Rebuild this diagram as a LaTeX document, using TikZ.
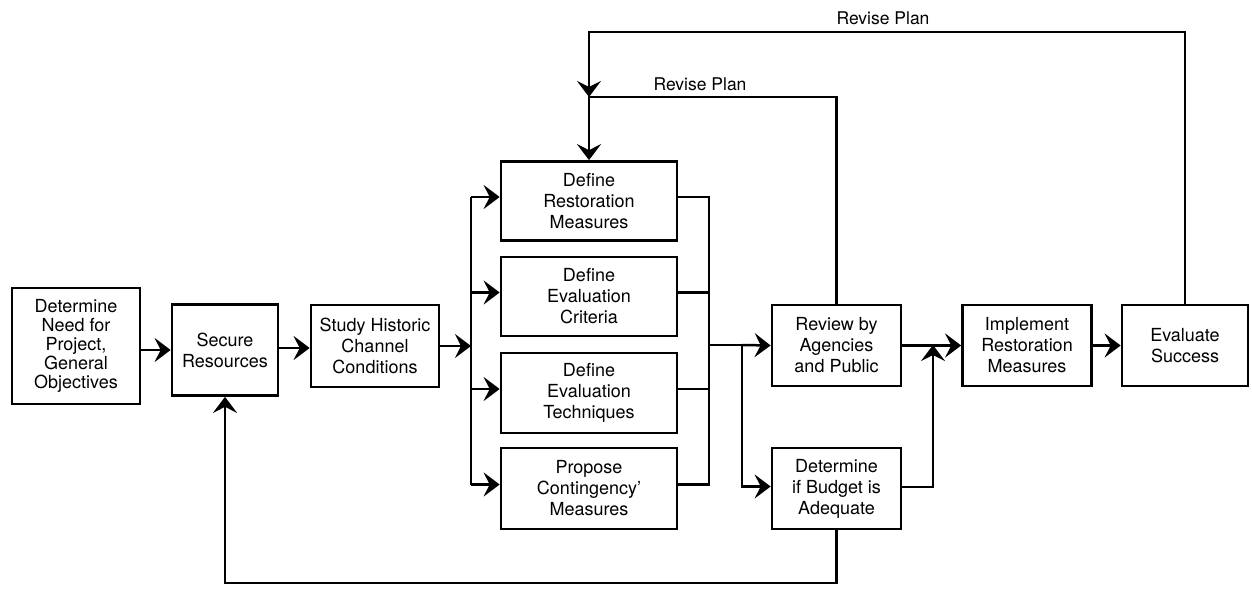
\documentclass[tikz,border=0pt]{standalone}
\usepackage{fontspec}
\setmainfont{TeX Gyre Heros}
\usetikzlibrary{arrows.meta}
\tikzset{
  box/.style={draw, line width=2.7pt, align=center, inner sep=2pt,
    font=\fontsize{18}{21}\selectfont},
  conn/.style={line width=2.5pt},
  arr/.style={conn, -{Stealth[length=16pt,width=24pt,inset=6pt]}},
  lbl/.style={font=\fontsize{17.5}{20}\selectfont, inner sep=0pt}
}
\begin{document}
\begin{tikzpicture}[x=1pt,y=-1pt]
\useasboundingbox (0,0) rectangle (1252,593);
% left chain
\node[box, minimum width=128pt, minimum height=116pt, font=\fontsize{18}{19}\selectfont] (n1) at (76,346) {Determine\\Need for\\Project,\\General\\Objectives};
\node[box, minimum width=106pt, minimum height=91pt] (n2) at (225,350) {Secure\\Resources};
\node[box, minimum width=128pt, minimum height=82pt] (n3) at (375,346) {Study Historic\\Channel\\Conditions};
% middle column
\node[box, minimum width=176pt, minimum height=79pt] (d1) at (589,201) {Define\\Restoration\\Measures};
\node[box, minimum width=176pt, minimum height=79pt] (d2) at (589,296.5) {Define\\Evaluation\\Criteria};
\node[box, minimum width=176pt, minimum height=80pt] (d3) at (589,393) {Define\\Evaluation\\Techniques};
\node[box, minimum width=176pt, minimum height=81pt] (d4) at (589,488.5) {Propose\\Contingency'\\Measures};
% right part
\node[box, minimum width=129pt, minimum height=81pt] (r) at (836.5,345.5) {Review by\\Agencies\\and Public};
\node[box, minimum width=129pt, minimum height=81pt] (b) at (836.5,488.5) {Determine\\if Budget is\\Adequate};
\node[box, minimum width=129pt, minimum height=81pt] (im) at (1027,345.5) {Implement\\Restoration\\Measures};
\node[box, minimum width=126pt, minimum height=81pt] (ev) at (1185,345.5) {Evaluate\\Success};
% coordinates
\coordinate (bl) at (471,346);
\coordinate (br) at (709,345);
\coordinate (b2) at (742,345);
\coordinate (jn) at (933,345);
\coordinate (t2) at (589,32);
\coordinate (t3) at (589,97);
\coordinate (bb) at (225,583);
% connectors
\draw[arr] (n1.east |- n2) -- (n2.west);
\draw[arr] (n2.east |- 0,348) -- (n3.west |- 0,348);
\draw[arr] (n3.east) -- (bl);
\draw[conn] ([yshift=4pt]bl |- d1.west) -- ([yshift=4pt]bl |- d4.west);
\draw[arr] ([yshift=4pt]bl |- d1.west) -- ([yshift=4pt]d1.west);
\draw[arr] ([yshift=4pt]bl |- d2.west) -- ([yshift=4pt]d2.west);
\draw[arr] ([yshift=4pt]bl |- d3.west) -- ([yshift=4pt]d3.west);
\draw[arr] ([yshift=4pt]bl |- d4.west) -- ([yshift=4pt]d4.west);
\draw[conn] ([yshift=4pt]d1.east) -| ([yshift=4pt]br |- d4.east) -- ([yshift=4pt]d4.east);
\draw[conn] ([yshift=4pt]d2.east) -- ([yshift=4pt]br |- d2.east);
\draw[conn] ([yshift=4pt]d3.east) -- ([yshift=4pt]br |- d3.east);
\draw[conn] (br) -- (b2);
\draw[arr] (b2) -- (r.west);
\draw[arr] (b2) |- ([yshift=2pt]b.west);
\draw[arr] (r.east) -- (im.west);
\draw[conn] ([yshift=1.5pt]b.east) -| (jn |- 0,400);
\draw[arr] (jn |- 0,400) -- (jn);
\draw[arr] (im.east) -- (ev.west);
% feedback loops
\draw[arr] (ev.north) |- (t2) -- (t3);
\draw[arr] (r.north) |- (t3) -- (d1.north);
\draw[arr] (b.south) |- (bb) -- (n2.south);
% labels
\node[lbl] (l1) at (883,18) {Revise Plan};
\node[lbl] (l2) at (700,84) {Revise Plan};
\end{tikzpicture}
\end{document}
